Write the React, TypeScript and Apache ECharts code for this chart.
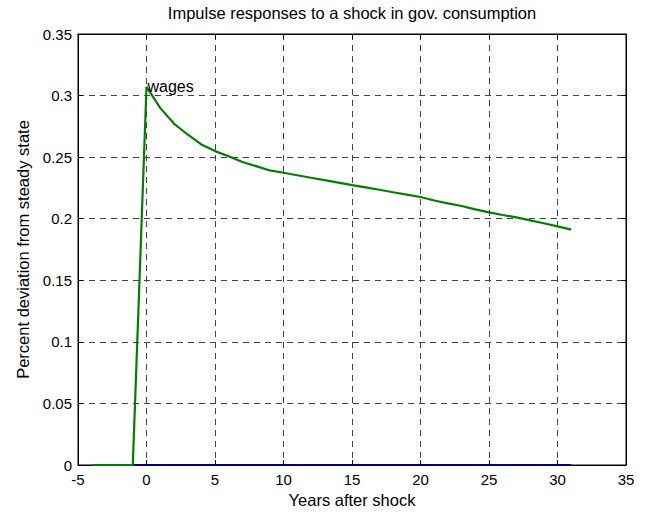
import React, { useEffect, useRef } from "react";
import * as echarts from "echarts";

const years = [-4, -3, -2, -1, 0, 1, 2, 3, 4, 5, 6, 7, 8, 9, 10, 11, 12, 13, 14, 15, 16, 17, 18, 19, 20, 21, 22, 23, 24, 25, 26, 27, 28, 29, 30, 31];
const wages = [0, 0, 0, 0, 0.307, 0.29, 0.2773, 0.2684, 0.2603, 0.2549, 0.2508, 0.246, 0.2427, 0.2392, 0.2373, 0.2353, 0.2333, 0.2313, 0.2293, 0.2273, 0.2254, 0.2235, 0.2215, 0.2196, 0.2176, 0.2148, 0.2125, 0.2103, 0.2076, 0.2051, 0.203, 0.2011, 0.1987, 0.1963, 0.1938, 0.1911];
const baseline = [0, 0, 0, 0, 0, 0, 0, 0, 0, 0, 0, 0, 0, 0, 0, 0, 0, 0, 0, 0, 0, 0, 0, 0, 0, 0, 0, 0, 0, 0, 0, 0, 0, 0, 0, 0];
const seriesLabel = "wages";
const labelYear = 0;

const titleText = "Impulse responses to a shock in gov. consumption";
const xName = "Years after shock";
const yName = "Percent deviation from steady state";

const FONT = "'Liberation Sans', Arial, Helvetica, sans-serif";

export default function App() {
  const ref = useRef<HTMLDivElement>(null);
  useEffect(() => {
    if (!ref.current) return;
    const chart = echarts.init(ref.current, undefined, { renderer: "svg" });
    const labelIdx = years.indexOf(labelYear);
    const common = {
      type: "value" as const,
      axisLine: { show: true, onZero: false, lineStyle: { color: "#000", width: 1 } },
      axisTick: { show: true, inside: true, length: 5, lineStyle: { color: "#000" } },
    };
    chart.setOption({
      animation: false,
      backgroundColor: "#fff",
      textStyle: { fontFamily: FONT },
      title: {
        text: titleText,
        left: 352,
        textAlign: "center",
        top: 4,
        padding: 0,
        textStyle: { fontSize: 16.5, fontWeight: "normal", color: "#000", fontFamily: FONT },
      },
      grid: {
        show: true,
        left: 78,
        top: 34,
        right: 26,
        bottom: 49,
        borderColor: "#000",
        borderWidth: 1,
        backgroundColor: "#fff",
      },
      xAxis: [
        {
          ...common,
          min: -5,
          max: 35,
          interval: 5,
          position: "bottom",
          axisLabel: { color: "#000", fontSize: 15, margin: 7, fontFamily: FONT },
          splitLine: { show: true, lineStyle: { color: "#444", type: [6, 5], width: 1 } },
          name: xName,
          nameLocation: "middle",
          nameGap: 25,
          nameTextStyle: { color: "#000", fontSize: 16.5, fontFamily: FONT },
        },
        {
          ...common,
          min: -5,
          max: 35,
          interval: 5,
          position: "top",
          axisLabel: { show: false },
          splitLine: { show: false },
        },
      ],
      yAxis: [
        {
          ...common,
          min: 0,
          max: 0.35,
          interval: 0.05,
          position: "left",
          axisLabel: {
            color: "#000",
            fontSize: 15,
            margin: 6,
            fontFamily: FONT,
            formatter: (v: number) => String(Number(v.toFixed(2))),
          },
          splitLine: { show: true, lineStyle: { color: "#444", type: [6, 5], width: 1 } },
          name: yName,
          nameLocation: "middle",
          nameGap: 45,
          nameTextStyle: { color: "#000", fontSize: 16.5, fontFamily: FONT },
        },
        {
          ...common,
          min: 0,
          max: 0.35,
          interval: 0.05,
          position: "right",
          axisLabel: { show: false },
          splitLine: { show: false },
        },
      ],
      series: [
        {
          type: "line",
          data: years.map((x, i) => [x, baseline[i]]),
          showSymbol: false,
          symbol: "none",
          lineStyle: { color: "#00008B", width: 2 },
          z: 2,
        },
        {
          type: "line",
          data: years.map((x, i) => [x, wages[i]]),
          showSymbol: false,
          symbol: "none",
          lineStyle: { color: "#008000", width: 2.2 },
          z: 3,
        },
        {
          type: "scatter",
          data: [[years[labelIdx], wages[labelIdx]]],
          symbolSize: 2,
          itemStyle: { color: "rgba(0,0,0,0)" },
          silent: true,
          label: {
            show: true,
            position: "right",
            distance: 0,
            formatter: seriesLabel,
            color: "#000",
            opacity: 1,
            fontSize: 16,
            fontFamily: FONT,
          },
          z: 4,
        },
      ],
    });
    return () => chart.dispose();
  }, []);
  return (
    <div
      ref={ref}
      style={{ position: "fixed", left: 0, top: 0, width: 652, height: 514, background: "#fff" }}
    />
  );
}
